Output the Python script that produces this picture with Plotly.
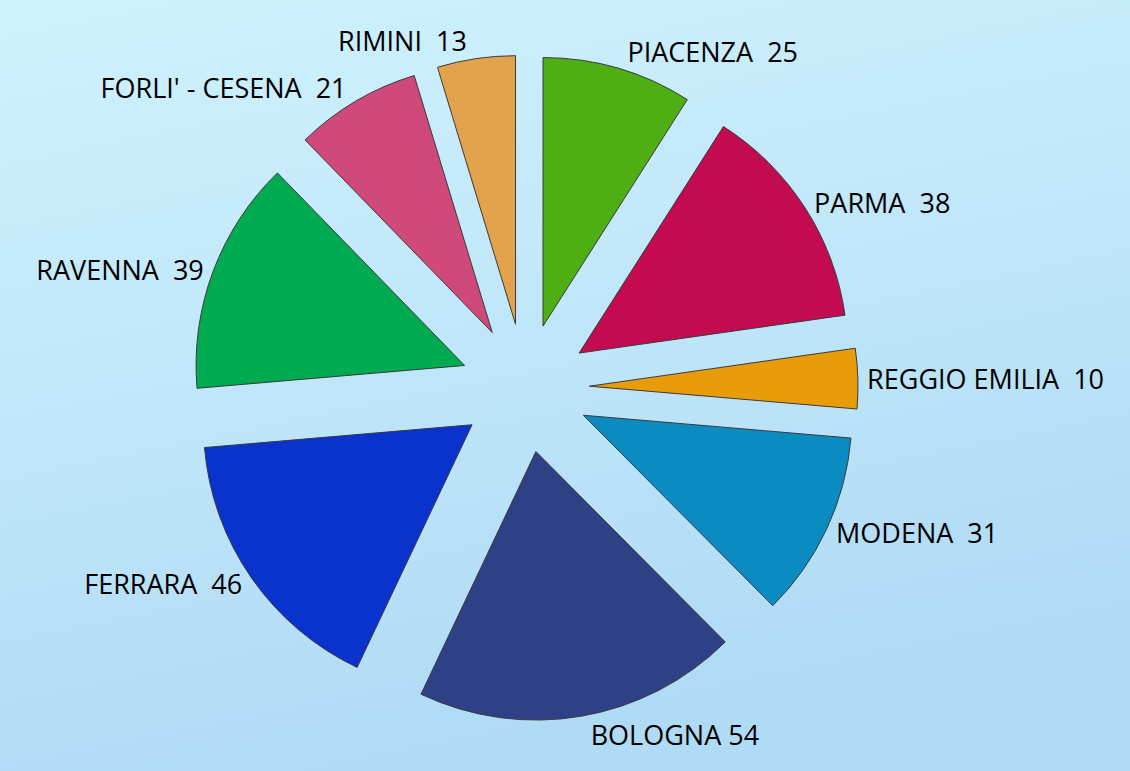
import base64
import plotly.graph_objects as go

labels = ["PIACENZA", "PARMA", "REGGIO EMILIA", "MODENA", "BOLOGNA",
          "FERRARA", "RAVENNA", "FORLI' - CESENA", "RIMINI"]
values = [25, 38, 10, 31, 54, 46, 39, 21, 13]
colors = ["#4fae14", "#c40a50", "#e89c0a", "#0a8cc0", "#2e4186",
          "#0a32cc", "#00aa50", "#cf4a7a", "#e3a24c"]
texts = ["PIACENZA  25", "PARMA  38", "REGGIO EMILIA  10", "MODENA  31", "BOLOGNA 54",
         "FERRARA  46", "RAVENNA  39", "FORLI' - CESENA  21", "RIMINI  13"]

W, H = 1130, 771
cx, cy, R = 525, 388, 333

fig = go.Figure(go.Pie(
    labels=labels, values=values, text=texts,
    texttemplate="%{text}", textinfo="text",
    textposition="outside", automargin=False,
    sort=False, direction="clockwise", rotation=0,
    pull=[0.24] * len(values),
    marker=dict(colors=colors, line=dict(color="#3a3a3a", width=1)),
    outsidetextfont=dict(family="Open Sans", size=27, color="#000000"),
    hole=0,
    domain=dict(x=[(cx - R) / W, (cx + R) / W], y=[(H - cy - R) / H, (H - cy + R) / H]),
    showlegend=False,
))

svg = ("<svg xmlns='http://www.w3.org/2000/svg' width='1130' height='771'>"
       "<defs><linearGradient id='g' x1='0' y1='0' x2='0.3' y2='1'>"
       "<stop offset='0' stop-color='#d0f2fe'/><stop offset='1' stop-color='#b0dbf5'/>"
       "</linearGradient></defs><rect width='1130' height='771' fill='url(#g)'/></svg>")
uri = "data:image/svg+xml;base64," + base64.b64encode(svg.encode()).decode()

fig.update_layout(
    width=W, height=H, autosize=False,
    margin=dict(l=0, r=0, t=0, b=0, pad=0, autoexpand=False),
    paper_bgcolor="#c3e8fa", plot_bgcolor="#c3e8fa",
    images=[dict(source=uri, xref="paper", yref="paper", x=0, y=1,
                 sizex=1, sizey=1, sizing="stretch", layer="below",
                 xanchor="left", yanchor="top")],
)
fig.write_html("out.html", config={"displayModeBar": False},
               post_script="document.body.style.margin='0';document.body.style.overflow='hidden';")
